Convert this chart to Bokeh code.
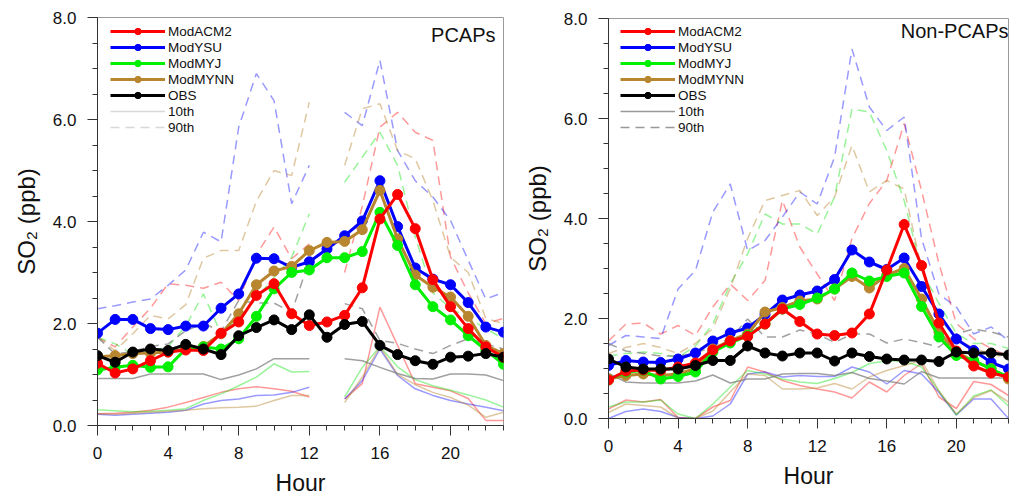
import math
from bokeh.plotting import figure
from bokeh.layouts import row
from bokeh.models import FixedTicker, PrintfTickFormatter, Legend, LegendItem, Label
from bokeh.embed import file_html
from bokeh.resources import INLINE

nan = float("nan")
hours = list(range(24))
series_names = ["ModACM2", "ModYSU", "ModMYJ", "ModMYNN", "OBS"]

# ---------------- PCAPs (left) ----------------
acm2_p = [1.22, 1.03, 1.11, 1.27, 1.44, 1.48, 1.47, 1.81, 2.03, 2.55, 2.78, 2.19, 1.96, 2.03, 2.16, 2.70, 4.05, 4.53, 3.86, 2.86, 2.33, 1.90, 1.54, 1.34]
ysu_p = [1.81, 2.08, 2.08, 1.90, 1.88, 1.95, 1.95, 2.30, 2.58, 3.28, 3.27, 3.10, 3.21, 3.46, 3.72, 4.01, 4.80, 3.90, 3.09, 2.87, 2.76, 2.41, 1.93, 1.83]
myj_p = [1.09, 1.14, 1.18, 1.14, 1.15, 1.50, 1.54, 1.50, 1.70, 2.14, 2.68, 3.00, 3.05, 3.29, 3.29, 3.41, 4.18, 3.53, 2.76, 2.33, 2.07, 1.76, 1.48, 1.20]
mynn_p = [1.35, 1.37, 1.41, 1.42, 1.44, 1.50, 1.55, 1.80, 2.19, 2.76, 3.03, 3.12, 3.43, 3.59, 3.61, 3.84, 4.61, 3.66, 2.95, 2.71, 2.52, 2.14, 1.57, 1.41]
obs_p = [1.37, 1.24, 1.44, 1.50, 1.47, 1.59, 1.50, 1.39, 1.76, 1.92, 2.07, 1.88, 2.17, 1.73, 1.98, 2.04, 1.57, 1.39, 1.27, 1.20, 1.34, 1.36, 1.41, 1.34]

acm2_p90 = [1.73, 1.54, 1.93, 2.30, 2.78, 2.75, 2.69, 2.81, 2.45, 3.35, 3.89, 3.27, 3.56, nan, 3.00, 4.30, 5.85, 6.14, 5.75, 5.59, 3.30, 2.60, 2.00, 2.10]
ysu_p90 = [2.29, 2.35, 2.42, 2.48, 2.75, 3.05, 3.79, 3.60, 5.85, 6.90, 6.37, 4.35, 5.10, nan, 6.14, 5.88, 7.16, 5.39, 4.80, 4.48, 4.02, 3.24, 2.48, 2.61]
myj_p90 = [1.73, 1.60, 1.40, 1.45, 1.55, 1.95, 2.58, 1.80, 2.10, 2.50, 2.90, 3.30, 4.15, nan, 4.77, 5.26, 5.75, 5.10, 3.70, 2.60, 2.30, 2.10, 1.90, 1.70]
mynn_p90 = [1.73, 1.47, 1.80, 2.16, 2.09, 2.37, 3.28, 3.43, 3.43, 4.40, 5.00, 4.90, 6.34, nan, 5.10, 6.21, 6.31, 5.39, 5.23, 4.41, 3.30, 3.00, 2.10, 2.00]
obs_p90 = [1.73, 1.40, 1.45, 1.55, 1.60, 1.86, 2.00, 1.85, 2.45, 2.40, 2.40, 2.22, 3.24, nan, 2.39, 2.29, 1.67, 1.61, 1.50, 1.41, 1.57, 1.70, 1.60, 1.50]

acm2_p10 = [0.23, 0.24, 0.26, 0.30, 0.36, 0.45, 0.55, 0.65, 0.72, 0.76, 0.72, 0.67, 0.56, nan, 0.52, 0.82, 2.32, 1.57, 0.82, 0.75, 0.68, 0.53, 0.10, 0.10]
ysu_p10 = [0.22, 0.20, 0.22, 0.24, 0.26, 0.30, 0.42, 0.49, 0.52, 0.59, 0.60, 0.65, 0.75, nan, 0.52, 0.88, 1.50, 0.98, 0.72, 0.59, 0.49, 0.42, 0.36, 0.29]
myj_p10 = [0.31, 0.29, 0.27, 0.28, 0.30, 0.33, 0.49, 0.62, 0.78, 0.95, 1.21, 1.05, 1.06, nan, 0.56, 1.14, 1.55, 1.15, 0.90, 0.78, 0.69, 0.60, 0.50, 0.36]
mynn_p10 = [0.23, 0.22, 0.24, 0.26, 0.28, 0.30, 0.33, 0.35, 0.36, 0.38, 0.49, 0.59, 0.59, nan, 0.45, 0.95, 1.54, 1.00, 0.80, 0.65, 0.55, 0.40, 0.16, 0.26]
obs_p10 = [0.92, 0.92, 0.92, 1.01, 1.01, 1.01, 1.01, 0.90, 0.99, 1.11, 1.31, 1.31, 1.31, nan, 1.31, 1.27, 1.14, 1.02, 0.92, 0.91, 1.01, 1.01, 0.99, 0.88]

# ---------------- Non-PCAPs (right) ----------------
acm2_n = [0.77, 0.95, 0.97, 0.96, 1.03, 1.11, 1.37, 1.55, 1.64, 1.89, 2.19, 1.94, 1.69, 1.66, 1.71, 2.09, 2.97, 3.88, 3.06, 1.91, 1.35, 1.05, 0.91, 0.83]
ysu_n = [1.06, 1.16, 1.13, 1.12, 1.19, 1.31, 1.55, 1.71, 1.81, 2.08, 2.37, 2.47, 2.55, 2.78, 3.37, 3.13, 2.98, 3.21, 2.64, 2.09, 1.59, 1.36, 1.12, 0.99]
myj_n = [0.77, 0.93, 0.96, 0.79, 0.84, 0.93, 1.33, 1.51, 1.66, 1.89, 2.19, 2.28, 2.41, 2.59, 2.91, 2.75, 2.84, 2.91, 2.24, 1.63, 1.26, 1.16, 0.99, 0.83]
mynn_n = [0.79, 0.86, 0.89, 0.86, 0.89, 1.00, 1.39, 1.56, 1.69, 2.13, 2.22, 2.35, 2.39, 2.59, 2.84, 2.61, 2.87, 3.00, 2.39, 1.73, 1.33, 1.15, 1.00, 0.79]
obs_n = [1.19, 1.03, 0.99, 0.99, 0.99, 1.06, 1.16, 1.16, 1.45, 1.31, 1.25, 1.31, 1.31, 1.15, 1.31, 1.24, 1.19, 1.17, 1.17, 1.14, 1.33, 1.31, 1.31, 1.27]

acm2_n90 = [1.55, 1.89, 1.91, 1.69, 1.86, 1.66, 2.23, 2.69, 2.36, 2.76, 4.36, 3.43, 2.89, 2.36, 3.60, 4.30, 4.76, 5.90, 4.56, 3.10, 1.90, 1.60, 1.40, 1.25]
ysu_n90 = [1.46, 1.66, 1.63, 1.60, 2.59, 2.96, 4.13, 4.69, 3.36, 3.56, 4.03, 4.53, 4.29, 5.23, 7.39, 6.23, 5.76, 6.03, 3.60, 2.49, 2.23, 1.69, 1.83, 1.56]
myj_n90 = [1.25, 1.30, 1.33, 1.30, 1.22, 1.45, 1.89, 2.69, 3.29, 4.09, 3.89, 3.89, 3.69, 4.43, 6.19, 6.13, 5.36, 4.36, 2.96, 2.30, 1.70, 1.50, 1.50, 1.40]
mynn_n90 = [1.30, 1.42, 1.50, 1.42, 1.30, 1.50, 1.80, 2.60, 3.60, 4.36, 4.46, 4.56, 4.06, 4.43, 5.46, 4.53, 4.76, 4.59, 3.00, 2.00, 1.60, 1.40, 1.30, 1.20]
obs_n90 = [1.50, 1.35, 1.30, 1.25, 1.25, 1.30, 1.45, 1.60, 1.99, 1.63, 1.63, 1.77, 1.69, 1.52, 1.69, 1.69, 1.51, 1.59, 1.52, 1.43, 1.69, 1.79, 1.73, 1.63]

acm2_n10 = [0.19, 0.37, 0.33, 0.38, 0.02, 0.00, 0.23, 0.36, 1.03, 0.93, 0.76, 0.66, 0.59, 0.53, 0.41, 0.73, 0.53, 0.86, 1.10, 0.43, 0.20, 0.74, 0.68, 0.46]
ysu_n10 = [0.00, 0.14, 0.19, 0.14, 0.02, 0.00, 0.05, 0.29, 0.89, 0.93, 0.83, 0.86, 0.84, 0.84, 1.03, 0.93, 0.69, 0.96, 0.89, 0.52, 0.07, 0.39, 0.39, 0.00]
myj_n10 = [0.23, 0.33, 0.33, 0.37, 0.09, 0.00, 0.29, 0.63, 0.96, 0.89, 0.79, 0.73, 0.70, 0.80, 0.92, 1.10, 1.15, 1.15, 1.03, 0.55, 0.07, 0.45, 0.57, 0.25]
mynn_n10 = [0.12, 0.29, 0.26, 0.23, 0.01, 0.00, 0.15, 0.53, 0.89, 0.86, 0.59, 0.59, 0.61, 0.70, 0.59, 0.83, 0.96, 1.06, 1.16, 0.55, 0.09, 0.42, 0.56, 0.33]
obs_n10 = [0.90, 0.73, 0.71, 0.71, 0.71, 0.75, 0.87, 0.71, 0.79, 0.79, 0.89, 0.90, 0.90, 0.86, 0.92, 0.80, 0.75, 0.69, 0.94, 0.81, 0.81, 0.81, 0.81, 0.81]

x_major_ticks = [0, 4, 8, 12, 16, 20]
y_major_ticks = [0, 2, 4, 6, 8]

COLORS = {"ModACM2": "#ff0000", "ModYSU": "#0000ff", "ModMYJ": "#00f000",
          "ModMYNN": "#b8862e", "OBS": "#000000"}
PCT_COLORS = {"ModACM2": "#ff0000", "ModYSU": "#0000ff", "ModMYJ": "#00e000",
              "ModMYNN": "#b8862e", "OBS": "#808080"}
PCT_ALPHA = {"ModACM2": 0.4, "ModYSU": 0.4, "ModMYJ": 0.4, "ModMYNN": 0.45, "OBS": 0.75}
FONT = "Liberation Sans"
ROW_H = 16


def make_panel(title, mean, p90, p10, width, height, borders, legend_gray, legend_gap, title_offset):
    left, right, top, bottom = borders
    p = figure(width=width, height=height, output_backend="svg", toolbar_location=None,
               x_range=(0, 23), y_range=(0, 8),
               min_border_left=left, min_border_right=right,
               min_border_top=top, min_border_bottom=bottom)
    if "frame_align" in p.properties():
        p.frame_align = False
    frame_h = height - top - bottom
    p.xgrid.visible = False
    p.ygrid.visible = False
    p.outline_line_color = "#9a9a9a"
    p.background_fill_color = "white"
    p.border_fill_color = "white"

    p.xaxis.ticker = FixedTicker(ticks=x_major_ticks, minor_ticks=hours)
    p.yaxis.ticker = FixedTicker(ticks=y_major_ticks,
                                 minor_ticks=[i * 0.5 for i in range(17)])
    p.yaxis.formatter = PrintfTickFormatter(format="%.1f")
    p.xaxis.axis_label = "Hour"
    p.yaxis.axis_label = "SO\u2082 (ppb)"
    for ax in (p.xaxis, p.yaxis):
        ax.axis_line_color = "#333333"
        ax.major_tick_line_color = "#333333"
        ax.minor_tick_line_color = "#333333"
        ax.major_tick_in = 0
        ax.major_tick_out = 10
        ax.minor_tick_in = 0
        ax.minor_tick_out = 5
        ax.major_label_text_font = FONT
        ax.major_label_text_font_size = "17px"
        ax.major_label_text_color = "#111111"
        ax.major_label_standoff = 11
        ax.axis_label_text_font = FONT
        ax.axis_label_text_font_style = "normal"
        ax.axis_label_text_color = "#111111"
    p.xaxis.axis_label_text_font_size = "23px"
    p.yaxis.axis_label_text_font_size = "24px"
    p.xaxis.axis_label_standoff = 8
    p.yaxis.axis_label_standoff = 10

    # percentile lines (thin, faded)
    for name in series_names:
        c = PCT_COLORS[name]
        a = PCT_ALPHA[name]
        p.line(hours, p90[name], line_color=c, line_alpha=a, line_width=1.5, line_dash="9 6")
        p.line(hours, p10[name], line_color=c, line_alpha=a, line_width=1.5)

    # mean lines with markers
    renderers = {}
    for name in ["ModYSU", "ModMYNN", "ModMYJ", "ModACM2", "OBS"]:
        c = COLORS[name]
        lr = p.line(hours, mean[name], line_color=c, line_width=3)
        sr = p.scatter(hours, mean[name], marker="circle", size=10, fill_color=c, line_color=c)
        renderers[name] = [lr, sr]

    # legend swatches for the percentile line styles (nothing drawn in the plot)
    l10 = p.line([0], [nan], line_color=legend_gray, line_width=1.3)
    l90 = p.line([0], [nan], line_color=legend_gray, line_width=1.3, line_dash="9 6")

    items = [LegendItem(label=n, renderers=renderers[n]) for n in series_names]
    items += [LegendItem(label="10th", renderers=[l10]), LegendItem(label="90th", renderers=[l90])]
    n_rows = len(items)
    legend_h = n_rows * ROW_H
    legend = Legend(items=items, location=(legend_gap[0], int(round(frame_h - legend_gap[1] - legend_h))),
                    margin=0, padding=0, spacing=0,
                    glyph_width=55, glyph_height=ROW_H, label_height=ROW_H, label_standoff=3,
                    label_text_font=FONT, label_text_font_size="13.5px",
                    label_text_color="#111111",
                    background_fill_alpha=0, border_line_alpha=0)
    p.add_layout(legend)

    p.add_layout(Label(x=23, y=8, text=title, text_align="right", text_baseline="top",
                       x_offset=title_offset[0], y_offset=title_offset[1],
                       text_font=FONT, text_font_size="20px", text_color="#111111"))
    return p


mean_p = dict(zip(series_names, [acm2_p, ysu_p, myj_p, mynn_p, obs_p]))
p90_p = dict(zip(series_names, [acm2_p90, ysu_p90, myj_p90, mynn_p90, obs_p90]))
p10_p = dict(zip(series_names, [acm2_p10, ysu_p10, myj_p10, mynn_p10, obs_p10]))
mean_n = dict(zip(series_names, [acm2_n, ysu_n, myj_n, mynn_n, obs_n]))
p90_n = dict(zip(series_names, [acm2_n90, ysu_n90, myj_n90, mynn_n90, obs_n90]))
p10_n = dict(zip(series_names, [acm2_n10, ysu_n10, myj_n10, mynn_n10, obs_n10]))

p1 = make_panel("PCAPs", mean_p, p90_p, p10_p, 520, 501, (97, 17, 17, 76),
                "#d8d8d8", (13, 6), (-8, -6))
p2 = make_panel("Non-PCAPs", mean_n, p90_n, p10_n, 492, 501, (88, 4, 18, 83),
                "#999999", (12, 5), (0, -1))

layout = row(p1, p2)
open("out.html", "w").write(file_html(layout, INLINE))
